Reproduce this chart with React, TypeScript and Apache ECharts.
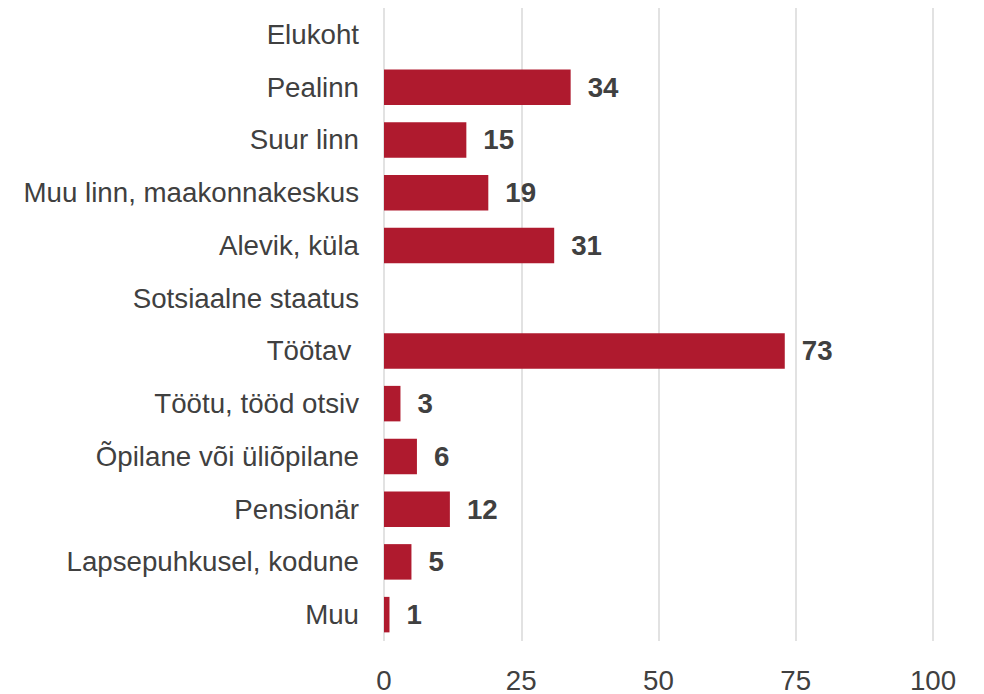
import React, { useEffect, useRef } from "react";
import * as echarts from "echarts";

const categories = [
  "Elukoht",
  "Pealinn",
  "Suur linn",
  "Muu linn, maakonnakeskus",
  "Alevik, küla",
  "Sotsiaalne staatus",
  "Töötav ",
  "Töötu, tööd otsiv",
  "Õpilane või üliõpilane",
  "Pensionär",
  "Lapsepuhkusel, kodune",
  "Muu",
];
const values: (number | null)[] = [null, 34, 15, 19, 31, null, 73, 3, 6, 12, 5, 1];
const axisMin = 0;
const axisMax = 100;
const axisStep = 25;

export default function App() {
  const ref = useRef<HTMLDivElement>(null);
  useEffect(() => {
    if (!ref.current) return;
    const chart = echarts.init(ref.current, undefined, { renderer: "svg" });
    const font = "'Liberation Sans', Arial, sans-serif";
    chart.setOption({
      animation: false,
      grid: { left: 384, right: 51, top: 8, bottom: 47, containLabel: false },
      xAxis: {
        type: "value",
        min: axisMin,
        max: axisMax,
        interval: axisStep,
        axisLine: { show: false },
        axisTick: { show: false },
        splitLine: { show: true, lineStyle: { color: "#d9d9d9", width: 1.5 } },
        axisLabel: { color: "#404040", fontSize: 27.7, fontFamily: font, margin: 25 },
      },
      yAxis: {
        type: "category",
        inverse: true,
        data: categories,
        axisLine: { show: false },
        axisTick: { show: false },
        axisLabel: { color: "#404040", fontSize: 27.7, fontFamily: font, margin: 25 },
      },
      series: [
        {
          type: "bar",
          data: values.map((v) => (v === null ? "-" : v)),
          barWidth: 35.5,
          itemStyle: { color: "#AF1A2E" },
          label: {
            show: true,
            position: "right",
            distance: 17,
            color: "#404040",
            fontSize: 27.7,
            fontWeight: "bold",
            fontFamily: font,
          },
        },
      ],
    });
    return () => chart.dispose();
  }, []);
  return <div ref={ref} style={{ width: 984, height: 694, position: "absolute", left: 0, top: 0 }} />;
}
